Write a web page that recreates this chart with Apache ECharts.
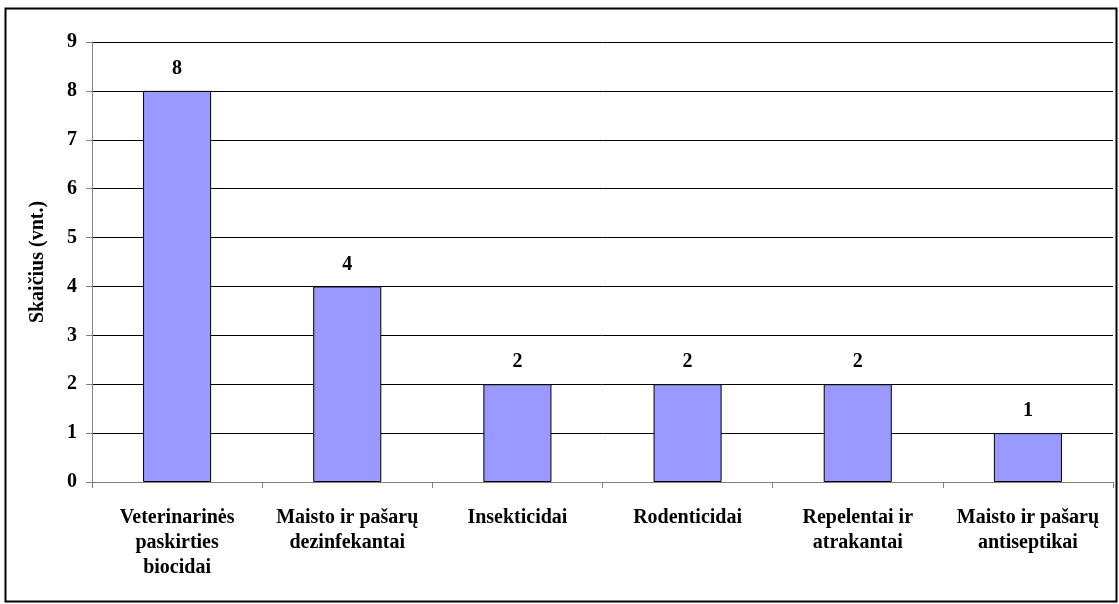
<!DOCTYPE html>
<html><head><meta charset="utf-8">
<script src="https://cdn.jsdelivr.net/npm/echarts@6/dist/echarts.min.js"></script>
<style>html,body{margin:0;padding:0;background:#fff}#c{width:1119px;height:604px}</style>
</head><body><div id="c"></div>
<script>
const categories = ["Veterinarinės\npaskirties\nbiocidai", "Maisto ir pašarų\ndezinfekantai", "Insekticidai", "Rodenticidai", "Repelentai ir\natrakantai", "Maisto ir pašarų\nantiseptikai"];
const values = [8, 4, 2, 2, 2, 1];
const yAxisName = "Skaičius (vnt.)";
const font = "'Liberation Serif','Times New Roman',serif";
const chart = echarts.init(document.getElementById('c'));
chart.setOption({
  animation: false,
  graphic: [{type:'rect', shape:{x:5.5,y:8.5,width:1111,height:593}, style:{fill:'none', stroke:'#000', lineWidth:2}, silent:true}],
  grid: {left: 92, right: 6, top: 42, bottom: 122},
  xAxis: {
    type: 'category', data: categories,
    axisLine: {lineStyle: {color: '#808080', width: 1}},
    axisTick: {show: true, inside: false, length: 6, alignWithLabel: false, lineStyle: {color: '#808080'}},
    axisLabel: {interval: 0, color: '#000', fontFamily: font, fontWeight: 'bold', fontSize: 20, lineHeight: 25, margin: 23}
  },
  yAxis: {
    type: 'value', min: 0, max: 9, interval: 1,
    name: yAxisName, nameLocation: 'middle', nameGap: 44, nameRotate: 90,
    nameTextStyle: {color: '#000', fontFamily: font, fontWeight: 'bold', fontSize: 20},
    axisLine: {show: true, lineStyle: {color: '#808080'}},
    axisTick: {show: true, length: 6, lineStyle: {color: '#808080'}},
    axisLabel: {color: '#000', fontFamily: font, fontWeight: 'bold', fontSize: 20, margin: 15},
    splitLine: {lineStyle: {color: '#000', width: 1}}
  },
  series: [{
    type: 'bar', data: values, barWidth: '40%',
    itemStyle: {color: '#9999FF', borderColor: '#000', borderWidth: 1},
    label: {show: true, position: 'top', distance: 12, color: '#000', fontFamily: font, fontWeight: 'bold', fontSize: 20}
  }]
});
</script></body></html>
